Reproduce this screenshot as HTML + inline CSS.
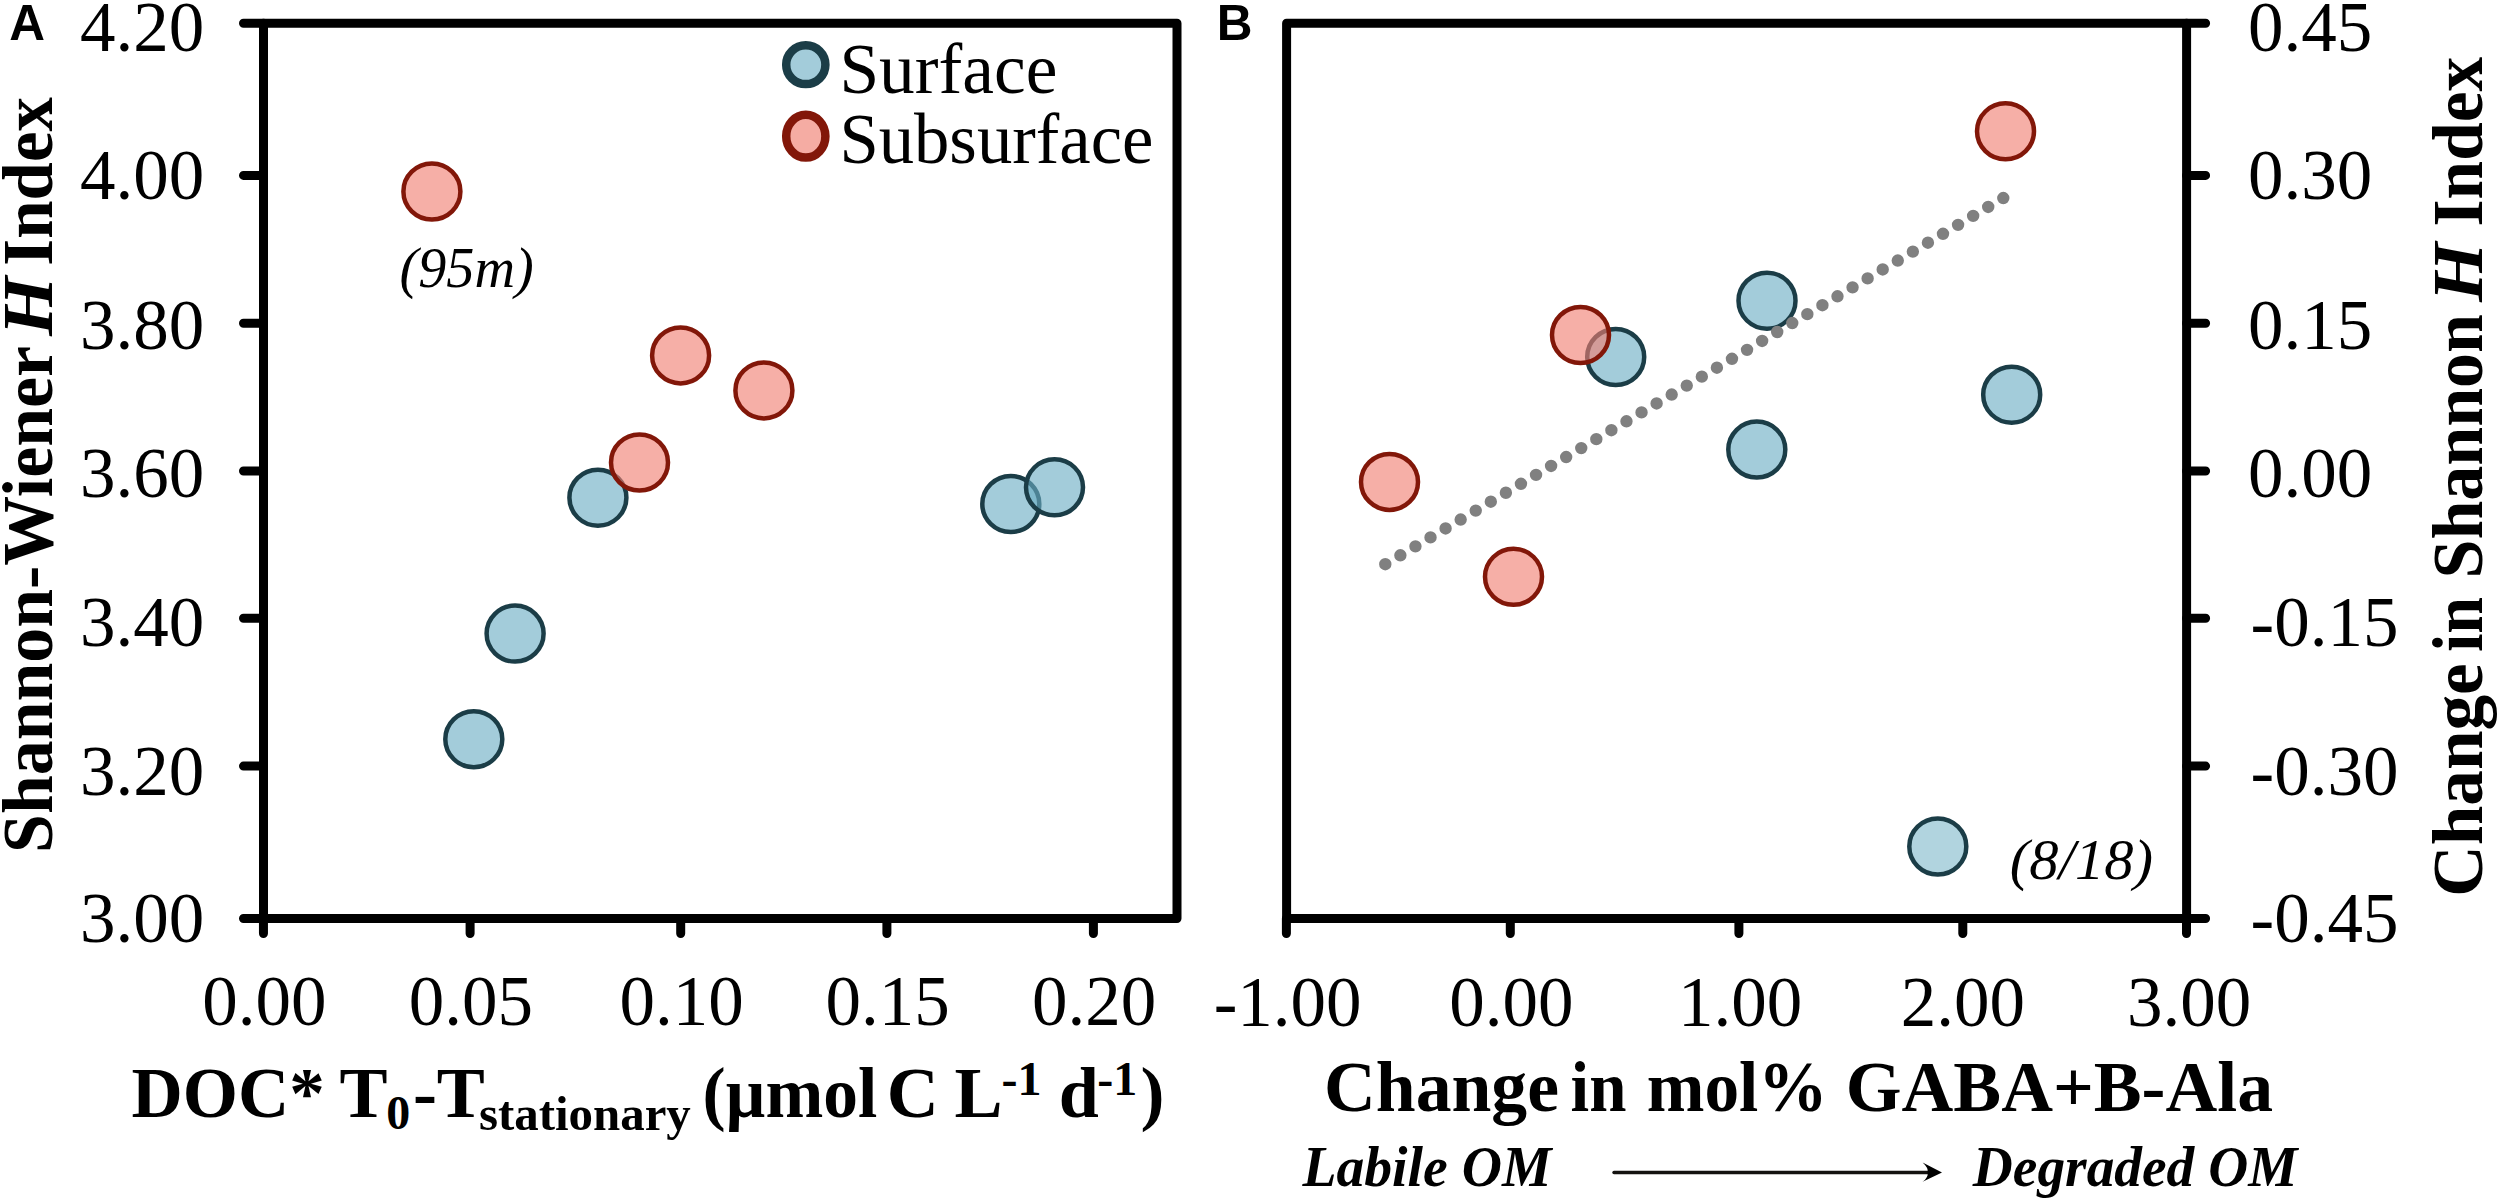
<!DOCTYPE html>
<html><head><meta charset="utf-8"><title>Shannon-Wiener H Index vs DOC and GABA+B-Ala</title>
<style>
html,body{margin:0;padding:0;background:#fff;}
svg{display:block;}
.tk{font-family:'Liberation Serif','Times New Roman',serif;font-size:71px;fill:#000;}
.lg{font-family:'Liberation Serif','Times New Roman',serif;font-size:72.5px;fill:#000;}
.an{font-family:'Liberation Serif','Times New Roman',serif;font-style:italic;font-size:57px;fill:#000;}
.pl{font-family:'Liberation Sans',Arial,sans-serif;font-weight:bold;font-size:49.5px;fill:#000;}
.ti{font-family:'Liberation Serif','Times New Roman',serif;font-weight:bold;font-size:72px;fill:#000;white-space:pre;}
.bi{font-family:'Liberation Serif','Times New Roman',serif;font-weight:bold;font-style:italic;font-size:56.5px;fill:#000;}
</style></head>
<body>
<svg width="2500" height="1202" viewBox="0 0 2500 1202">
<rect width="2500" height="1202" fill="#fff"/>
<path d="M263.5,23.3 H1177.0 V918.5 H263.5 Z" fill="none" stroke="#000" stroke-width="9" stroke-linejoin="round"/>
<path d="M1286.6,23.3 H2186.6 V918.5 H1286.6 Z" fill="none" stroke="#000" stroke-width="9" stroke-linejoin="round"/>
<path d="M263.5,23.3 H243.5 M2186.6,23.3 H2205.6 M263.5,175.4 H243.5 M2186.6,175.4 H2205.6 M263.5,323.3 H243.5 M2186.6,323.3 H2205.6 M263.5,471.0 H243.5 M2186.6,471.0 H2205.6 M263.5,618.3 H243.5 M2186.6,618.3 H2205.6 M263.5,766.1 H243.5 M2186.6,766.1 H2205.6 M263.5,918.5 H243.5 M2186.6,918.5 H2205.6 M263.45,918.5 V933.5 M470.1,918.5 V933.5 M680.7,918.5 V933.5 M886.9,918.5 V933.5 M1093.4,918.5 V933.5 M1286.4,918.5 V933.5 M1510.3,918.5 V933.5 M1738.9,918.5 V933.5 M1962.8,918.5 V933.5 M2186.5,918.5 V933.5" fill="none" stroke="#000" stroke-width="9" stroke-linecap="round"/>
<text x="204.2" y="50.6" text-anchor="end" class="tk">4.20</text>
<text x="204.2" y="199.4" text-anchor="end" class="tk">4.00</text>
<text x="204.2" y="348.8" text-anchor="end" class="tk">3.80</text>
<text x="204.2" y="496.9" text-anchor="end" class="tk">3.60</text>
<text x="204.2" y="645.8" text-anchor="end" class="tk">3.40</text>
<text x="204.2" y="794.5" text-anchor="end" class="tk">3.20</text>
<text x="204.2" y="941.6" text-anchor="end" class="tk">3.00</text>
<text x="2248.1" y="50.6" class="tk">0.45</text>
<text x="2248.1" y="199.4" class="tk">0.30</text>
<text x="2248.1" y="348.8" class="tk">0.15</text>
<text x="2248.1" y="496.9" class="tk">0.00</text>
<text x="2250.6" y="645.8" class="tk">-0.15</text>
<text x="2250.6" y="794.5" class="tk">-0.30</text>
<text x="2250.6" y="941.6" class="tk">-0.45</text>
<text x="264.3" y="1025.3" text-anchor="middle" class="tk">0.00</text>
<text x="470.9" y="1025.3" text-anchor="middle" class="tk">0.05</text>
<text x="681.5" y="1025.3" text-anchor="middle" class="tk">0.10</text>
<text x="887.7" y="1025.3" text-anchor="middle" class="tk">0.15</text>
<text x="1094.2" y="1025.3" text-anchor="middle" class="tk">0.20</text>
<text x="1287.6" y="1025.5" text-anchor="middle" class="tk">-1.00</text>
<text x="1511.4" y="1025.5" text-anchor="middle" class="tk">0.00</text>
<text x="1740.0" y="1025.5" text-anchor="middle" class="tk">1.00</text>
<text x="1962.8" y="1025.5" text-anchor="middle" class="tk">2.00</text>
<text x="2189.0" y="1025.5" text-anchor="middle" class="tk">3.00</text>
<ellipse cx="473.8" cy="739.2" rx="28.5" ry="28.0" fill="#6badc3" fill-opacity="0.62" stroke="#1b3d47" stroke-width="4.5"/>
<ellipse cx="515.1" cy="633.6" rx="28.5" ry="28.0" fill="#6badc3" fill-opacity="0.62" stroke="#1b3d47" stroke-width="4.5"/>
<ellipse cx="597.9" cy="497.7" rx="28.5" ry="28.0" fill="#6badc3" fill-opacity="0.62" stroke="#1b3d47" stroke-width="4.5"/>
<ellipse cx="1010.8" cy="504.0" rx="28.5" ry="28.0" fill="#6badc3" fill-opacity="0.62" stroke="#1b3d47" stroke-width="4.5"/>
<ellipse cx="1054.5" cy="487.3" rx="28.5" ry="28.0" fill="#6badc3" fill-opacity="0.62" stroke="#1b3d47" stroke-width="4.5"/>
<ellipse cx="431.9" cy="191.5" rx="28.5" ry="28.0" fill="#f07e71" fill-opacity="0.62" stroke="#821709" stroke-width="4.5"/>
<ellipse cx="680.6" cy="355.4" rx="28.5" ry="28.0" fill="#f07e71" fill-opacity="0.62" stroke="#821709" stroke-width="4.5"/>
<ellipse cx="763.9" cy="390.4" rx="28.5" ry="28.0" fill="#f07e71" fill-opacity="0.62" stroke="#821709" stroke-width="4.5"/>
<ellipse cx="639.5" cy="462.5" rx="28.5" ry="28.0" fill="#f07e71" fill-opacity="0.62" stroke="#821709" stroke-width="4.5"/>
<ellipse cx="1615.7" cy="357.0" rx="28.5" ry="28.0" fill="#6badc3" fill-opacity="0.62" stroke="#1b3d47" stroke-width="4.5"/>
<ellipse cx="1767.0" cy="300.7" rx="28.5" ry="28.0" fill="#6badc3" fill-opacity="0.62" stroke="#1b3d47" stroke-width="4.5"/>
<ellipse cx="1756.8" cy="449.6" rx="28.5" ry="28.0" fill="#6badc3" fill-opacity="0.62" stroke="#1b3d47" stroke-width="4.5"/>
<ellipse cx="2011.7" cy="394.7" rx="28.5" ry="28.0" fill="#6badc3" fill-opacity="0.62" stroke="#1b3d47" stroke-width="4.5"/>
<ellipse cx="1937.8" cy="846.5" rx="28.5" ry="28.0" fill="#6badc3" fill-opacity="0.53" stroke="#1b3d47" stroke-width="4.5"/>
<ellipse cx="1389.5" cy="481.9" rx="28.5" ry="28.0" fill="#f07e71" fill-opacity="0.62" stroke="#821709" stroke-width="4.5"/>
<ellipse cx="1513.5" cy="576.8" rx="28.5" ry="28.0" fill="#f07e71" fill-opacity="0.62" stroke="#821709" stroke-width="4.5"/>
<ellipse cx="1580.5" cy="335.0" rx="28.5" ry="28.0" fill="#f07e71" fill-opacity="0.62" stroke="#821709" stroke-width="4.5"/>
<ellipse cx="2005.5" cy="131.3" rx="28.5" ry="28.0" fill="#f07e71" fill-opacity="0.62" stroke="#821709" stroke-width="4.5"/>
<path d="M1385.3,564.2 L2004.7,197.2" stroke="#808080" stroke-width="12.4" stroke-linecap="round" stroke-dasharray="0 17.52" fill="none"/>
<ellipse cx="805.8" cy="64.7" rx="19.6" ry="19.4" fill="#a3ccda" stroke="#1b3d47" stroke-width="8.5"/>
<ellipse cx="805.8" cy="136.2" rx="19.6" ry="21.4" fill="#f5aca3" stroke="#821709" stroke-width="8.5"/>
<text x="839.4" y="92.9" class="lg" textLength="218.0" lengthAdjust="spacingAndGlyphs">Surface</text>
<text x="839.4" y="163.4" class="lg" textLength="314.0" lengthAdjust="spacingAndGlyphs">Subsurface</text>
<text x="399.6" y="287.4" class="an" textLength="134.1" lengthAdjust="spacingAndGlyphs">(95m)</text>
<text x="2009.8" y="879.0" class="an" textLength="143.3" lengthAdjust="spacingAndGlyphs">(8/18)</text>
<text x="9.3" y="39.5" class="pl">A</text>
<text x="1216.7" y="39.5" class="pl">B</text>
<text transform="translate(52,852.3) rotate(-90)" class="ti"><tspan x="-0.6" y="0" textLength="506.8" lengthAdjust="spacingAndGlyphs">Shannon-Wiener</tspan><tspan x="516.3" y="0" textLength="59.6" lengthAdjust="spacingAndGlyphs" font-style="italic">H</tspan><tspan x="586.6" y="0" textLength="168.7" lengthAdjust="spacingAndGlyphs">Index</tspan></text>
<text transform="translate(2481.5,896.4) rotate(-90)" class="ti"><tspan x="-0.25" y="0" textLength="233.3" lengthAdjust="spacingAndGlyphs">Change</tspan><tspan x="244.3" y="0" textLength="55.2" lengthAdjust="spacingAndGlyphs">in</tspan><tspan x="317.9" y="0" textLength="264.4" lengthAdjust="spacingAndGlyphs">Shannon</tspan><tspan x="594.5" y="0" textLength="59.6" lengthAdjust="spacingAndGlyphs" font-style="italic">H</tspan><tspan x="670.0" y="0" textLength="169.6" lengthAdjust="spacingAndGlyphs">Index</tspan></text>
<text class="ti"><tspan x="131.6" y="1116.9" textLength="193.2" lengthAdjust="spacingAndGlyphs">DOC*</tspan><tspan x="339.4" y="1116.9">T</tspan><tspan x="386.3" y="1129.3" font-size="48">0</tspan><tspan x="412.9" y="1116.9">-T</tspan><tspan x="479.0" y="1130.0" font-size="48" textLength="211.8" lengthAdjust="spacingAndGlyphs">stationary</tspan><tspan x="702.4" y="1116.9" textLength="174.9" lengthAdjust="spacingAndGlyphs">(µmol</tspan><tspan x="886.7" y="1116.9">C</tspan><tspan x="954.4" y="1116.9">L</tspan><tspan x="1001.6" y="1095.1" font-size="48">-1</tspan><tspan x="1058.7" y="1116.9">d</tspan><tspan x="1097.2" y="1095.1" font-size="48">-1</tspan><tspan x="1140.6" y="1116.9">)</tspan></text>
<text class="ti"><tspan x="1324" y="1111" textLength="235.0" lengthAdjust="spacingAndGlyphs">Change</tspan><tspan x="1570.6" y="1111" textLength="55.8" lengthAdjust="spacingAndGlyphs">in</tspan><tspan x="1646.8" y="1111" textLength="180.8" lengthAdjust="spacingAndGlyphs">mol%</tspan><tspan x="1845.8" y="1111" textLength="427.2" lengthAdjust="spacingAndGlyphs">GABA+B-Ala</tspan></text>
<text x="1302.4" y="1186" class="bi" textLength="249.1" lengthAdjust="spacingAndGlyphs">Labile OM</text>
<text x="1972.8" y="1185.6" class="bi" textLength="324.6" lengthAdjust="spacingAndGlyphs">Degraded OM</text>
<path d="M1614,1172.5 H1930" stroke="#141210" stroke-width="3.4" stroke-linecap="round"/>
<path d="M1942,1172.4 L1922.6,1162.6 Q1928.6,1168 1927.6,1172.4 Q1928.6,1177 1922.6,1181.8 Z" fill="#000"/>
</svg>
</body></html>
